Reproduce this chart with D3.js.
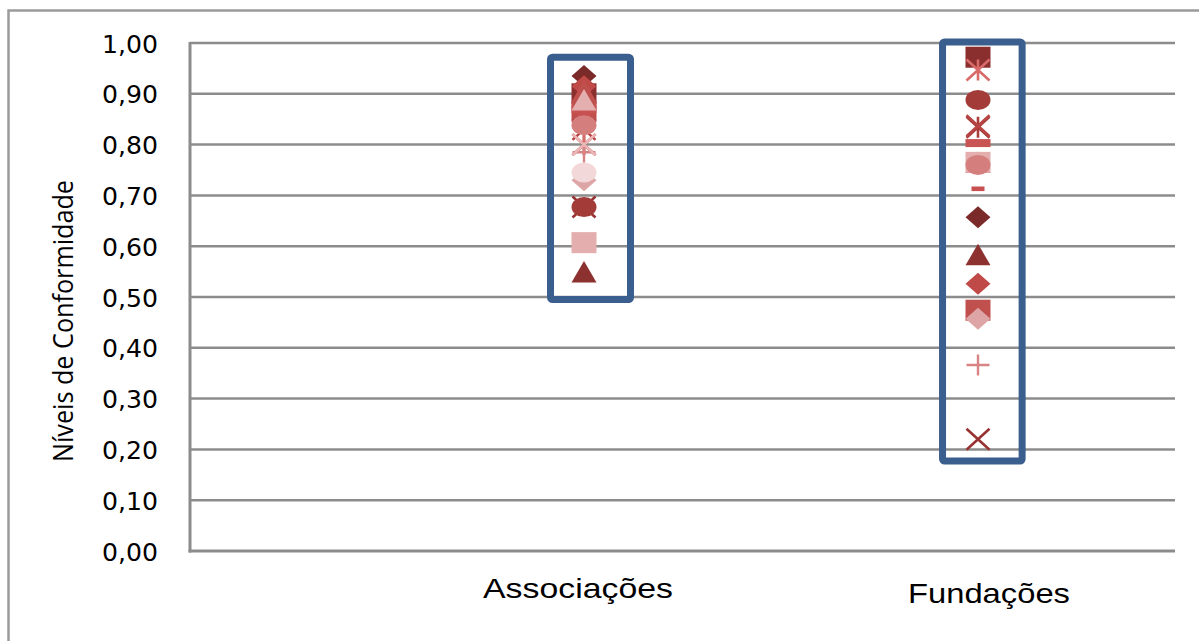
<!DOCTYPE html>
<html><head><meta charset="utf-8">
<script src="https://cdn.jsdelivr.net/npm/d3@7"></script>
<style>html,body{margin:0;padding:0;background:#fff;overflow:hidden}</style>
</head><body>
<script>
// ---- data ----
const categories = ["Associações", "Fundações"];
const categoryX = [1, 2];
const yTicks = [0, 0.1, 0.2, 0.3, 0.4, 0.5, 0.6, 0.7, 0.8, 0.9, 1.0];
const yTickLabels = ["0,00","0,10","0,20","0,30","0,40","0,50","0,60","0,70","0,80","0,90","1,00"];
const yTitle = "Níveis de Conformidade";
// one point per series in each category (null = no point)
const valuesAssociacoes = [0.935, 0.900, 0.549, 0.677, 0.800, 0.677, 0.915, 0.865, 0.905, 0.830, 0.800, 0.870, 0.860, 0.785, 0.730, 0.607, 0.838, 0.888, 0.800, 0.745];
const valuesFundacoes   = [0.657, 0.972, 0.583, 0.220, 0.834, 0.888, 0.526, 0.474, 0.765, 0.837, 0.947, 0.803, 0.713, 0.366, 0.457, 0.765, 0.760, null, null, null];
// marker style per series
const seriesMarkers = ["diamond","square","triangle","x","star","circle","diamond","square","triangle","x","star","longdash","dash","plus","diamond","square","circle","triangle","x","circle"];
const seriesColors  = ["#7B2A2A","#8B2E2E","#8C3030","#993333","#A83C3A","#A33B39","#C04A48","#C0504D","#C0504D","#B84545","#D86A6A","#C85454","#C85050","#D98484","#DDA5A5","#E4AEAE","#D47E7E","#E3B0AF","#EBB8B8","#F2D8D8"];
// highlighted value ranges (blue boxes) per category
const highlightRanges = [[0.495, 0.972], [0.177, 1.002]];

// ---- layout ----
const W = 1199, H = 641;
const plot = {left: 190, top: 43, right: 1175, bottom: 551};
const svg = d3.select("body").append("svg").attr("width", W).attr("height", H);

const x = d3.scaleLinear().domain([0, 2.5]).range([plot.left, plot.right]);
const y = d3.scaleLinear().domain([0, 1]).range([plot.bottom, plot.top]);

// outer chart border
svg.append("rect").attr("x", 8.5).attr("y", 10.5).attr("width", 1250).attr("height", 700)
  .attr("fill", "none").attr("stroke", "#9a9a9a").attr("stroke-width", 2.5);

// gridlines
svg.append("g").selectAll("line").data(yTicks.filter(d => d > 0)).join("line")
  .attr("x1", plot.left).attr("x2", plot.right)
  .attr("y1", d => y(d)).attr("y2", d => y(d))
  .attr("stroke", "#8c8c8c").attr("stroke-width", 2.5);

// axes lines
svg.append("line").attr("x1", plot.left).attr("x2", plot.left).attr("y1", plot.top - 1).attr("y2", plot.bottom + 1.5)
  .attr("stroke", "#8c8c8c").attr("stroke-width", 3);
svg.append("line").attr("x1", plot.left - 1.5).attr("x2", plot.right).attr("y1", plot.bottom).attr("y2", plot.bottom)
  .attr("stroke", "#8c8c8c").attr("stroke-width", 3);

// y tick labels
svg.append("g").selectAll("text").data(yTicks).join("text")
  .attr("x", 158).attr("y", d => y(d) + 9.5)
  .attr("text-anchor", "end")
  .attr("font-family", "DejaVu Sans, Verdana, sans-serif").attr("font-size", 24)
  .attr("textLength", 56).attr("lengthAdjust", "spacingAndGlyphs")
  .attr("fill", "#000")
  .text((d, i) => yTickLabels[i]);

// y title
svg.append("text")
  .attr("transform", "translate(73,321) scale(1.25,1) rotate(-90)")
  .attr("text-anchor", "middle")
  .attr("font-family", "Open Sans, Noto Sans, sans-serif").attr("font-size", 22)
  .attr("textLength", 282).attr("lengthAdjust", "spacingAndGlyphs")
  .attr("fill", "#000")
  .text(yTitle);

// category labels
const catLabelOffsets = [-6, 11], catLabelBase = [598, 603], catLabelLen = [190, 162];
svg.append("g").selectAll("text").data(categories).join("text")
  .attr("x", (d, i) => x(categoryX[i]) + catLabelOffsets[i])
  .attr("y", (d, i) => catLabelBase[i])
  .attr("text-anchor", "middle")
  .attr("font-family", "Liberation Sans, Arial, sans-serif").attr("font-size", 28)
  .attr("textLength", (d, i) => catLabelLen[i]).attr("lengthAdjust", "spacingAndGlyphs")
  .attr("fill", "#000")
  .text(d => d);

// markers
const mw = 12.5, mh = 10.5;
function drawMarker(g, type, color) {
  switch (type) {
    case "diamond":
      g.append("path").attr("d", `M0,${-mh-0.5}L${mw},0L0,${mh+0.5}L${-mw},0Z`).attr("fill", color); break;
    case "square":
      g.append("rect").attr("x", -mw).attr("y", -mh).attr("width", 2*mw).attr("height", 2*mh).attr("fill", color); break;
    case "triangle":
      g.append("path").attr("d", `M0,${-mh-0.5}L${mw},${mh}L${-mw},${mh}Z`).attr("fill", color); break;
    case "circle":
      g.append("ellipse").attr("rx", mw).attr("ry", mh - 0.5).attr("fill", color); break;
    case "x":
      g.append("path").attr("d", `M${-mw+1},${-mh}L${mw-1},${mh}M${mw-1},${-mh}L${-mw+1},${mh}`)
        .attr("stroke", color).attr("stroke-width", 2.6).attr("fill", "none"); break;
    case "star":
      g.append("path").attr("d", `M${-mw+1},${-mh}L${mw-1},${mh}M${mw-1},${-mh}L${-mw+1},${mh}M0,${-mh}L0,${mh}`)
        .attr("stroke", color).attr("stroke-width", 2.6).attr("fill", "none"); break;
    case "plus":
      g.append("path").attr("d", `M${-mw+1},0L${mw-1},0M0,${-mh}L0,${mh}`)
        .attr("stroke", color).attr("stroke-width", 2.4).attr("fill", "none"); break;
    case "dash":
      g.append("rect").attr("x", -6.5).attr("y", -2.3).attr("width", 13).attr("height", 4.6).attr("fill", color); break;
    case "longdash":
      g.append("rect").attr("x", -mw).attr("y", -4).attr("width", 2*mw).attr("height", 8).attr("fill", color); break;
  }
}
const valueSets = [valuesAssociacoes, valuesFundacoes];
const markerLayer = svg.append("g");
seriesMarkers.forEach((m, si) => {
  valueSets.forEach((vals, ci) => {
    const v = vals[si];
    if (v == null) return;
    const g = markerLayer.append("g").attr("transform", `translate(${x(categoryX[ci])},${y(v)})`);
    drawMarker(g, m, seriesColors[si]);
  });
});

// highlight boxes
const boxHalf = [[0.085, 0.118], [0.09, 0.112]];
svg.append("g").selectAll("rect").data(highlightRanges).join("rect")
  .attr("x", (d, i) => x(categoryX[i] - boxHalf[i][0]))
  .attr("width", (d, i) => x(categoryX[i] + boxHalf[i][1]) - x(categoryX[i] - boxHalf[i][0]))
  .attr("y", d => y(d[1]))
  .attr("height", d => y(d[0]) - y(d[1]))
  .attr("fill", "none").attr("stroke", "#3A5F8E").attr("stroke-width", 7)
  .attr("stroke-linejoin", "round").attr("rx", 2);
</script>
</body></html>
